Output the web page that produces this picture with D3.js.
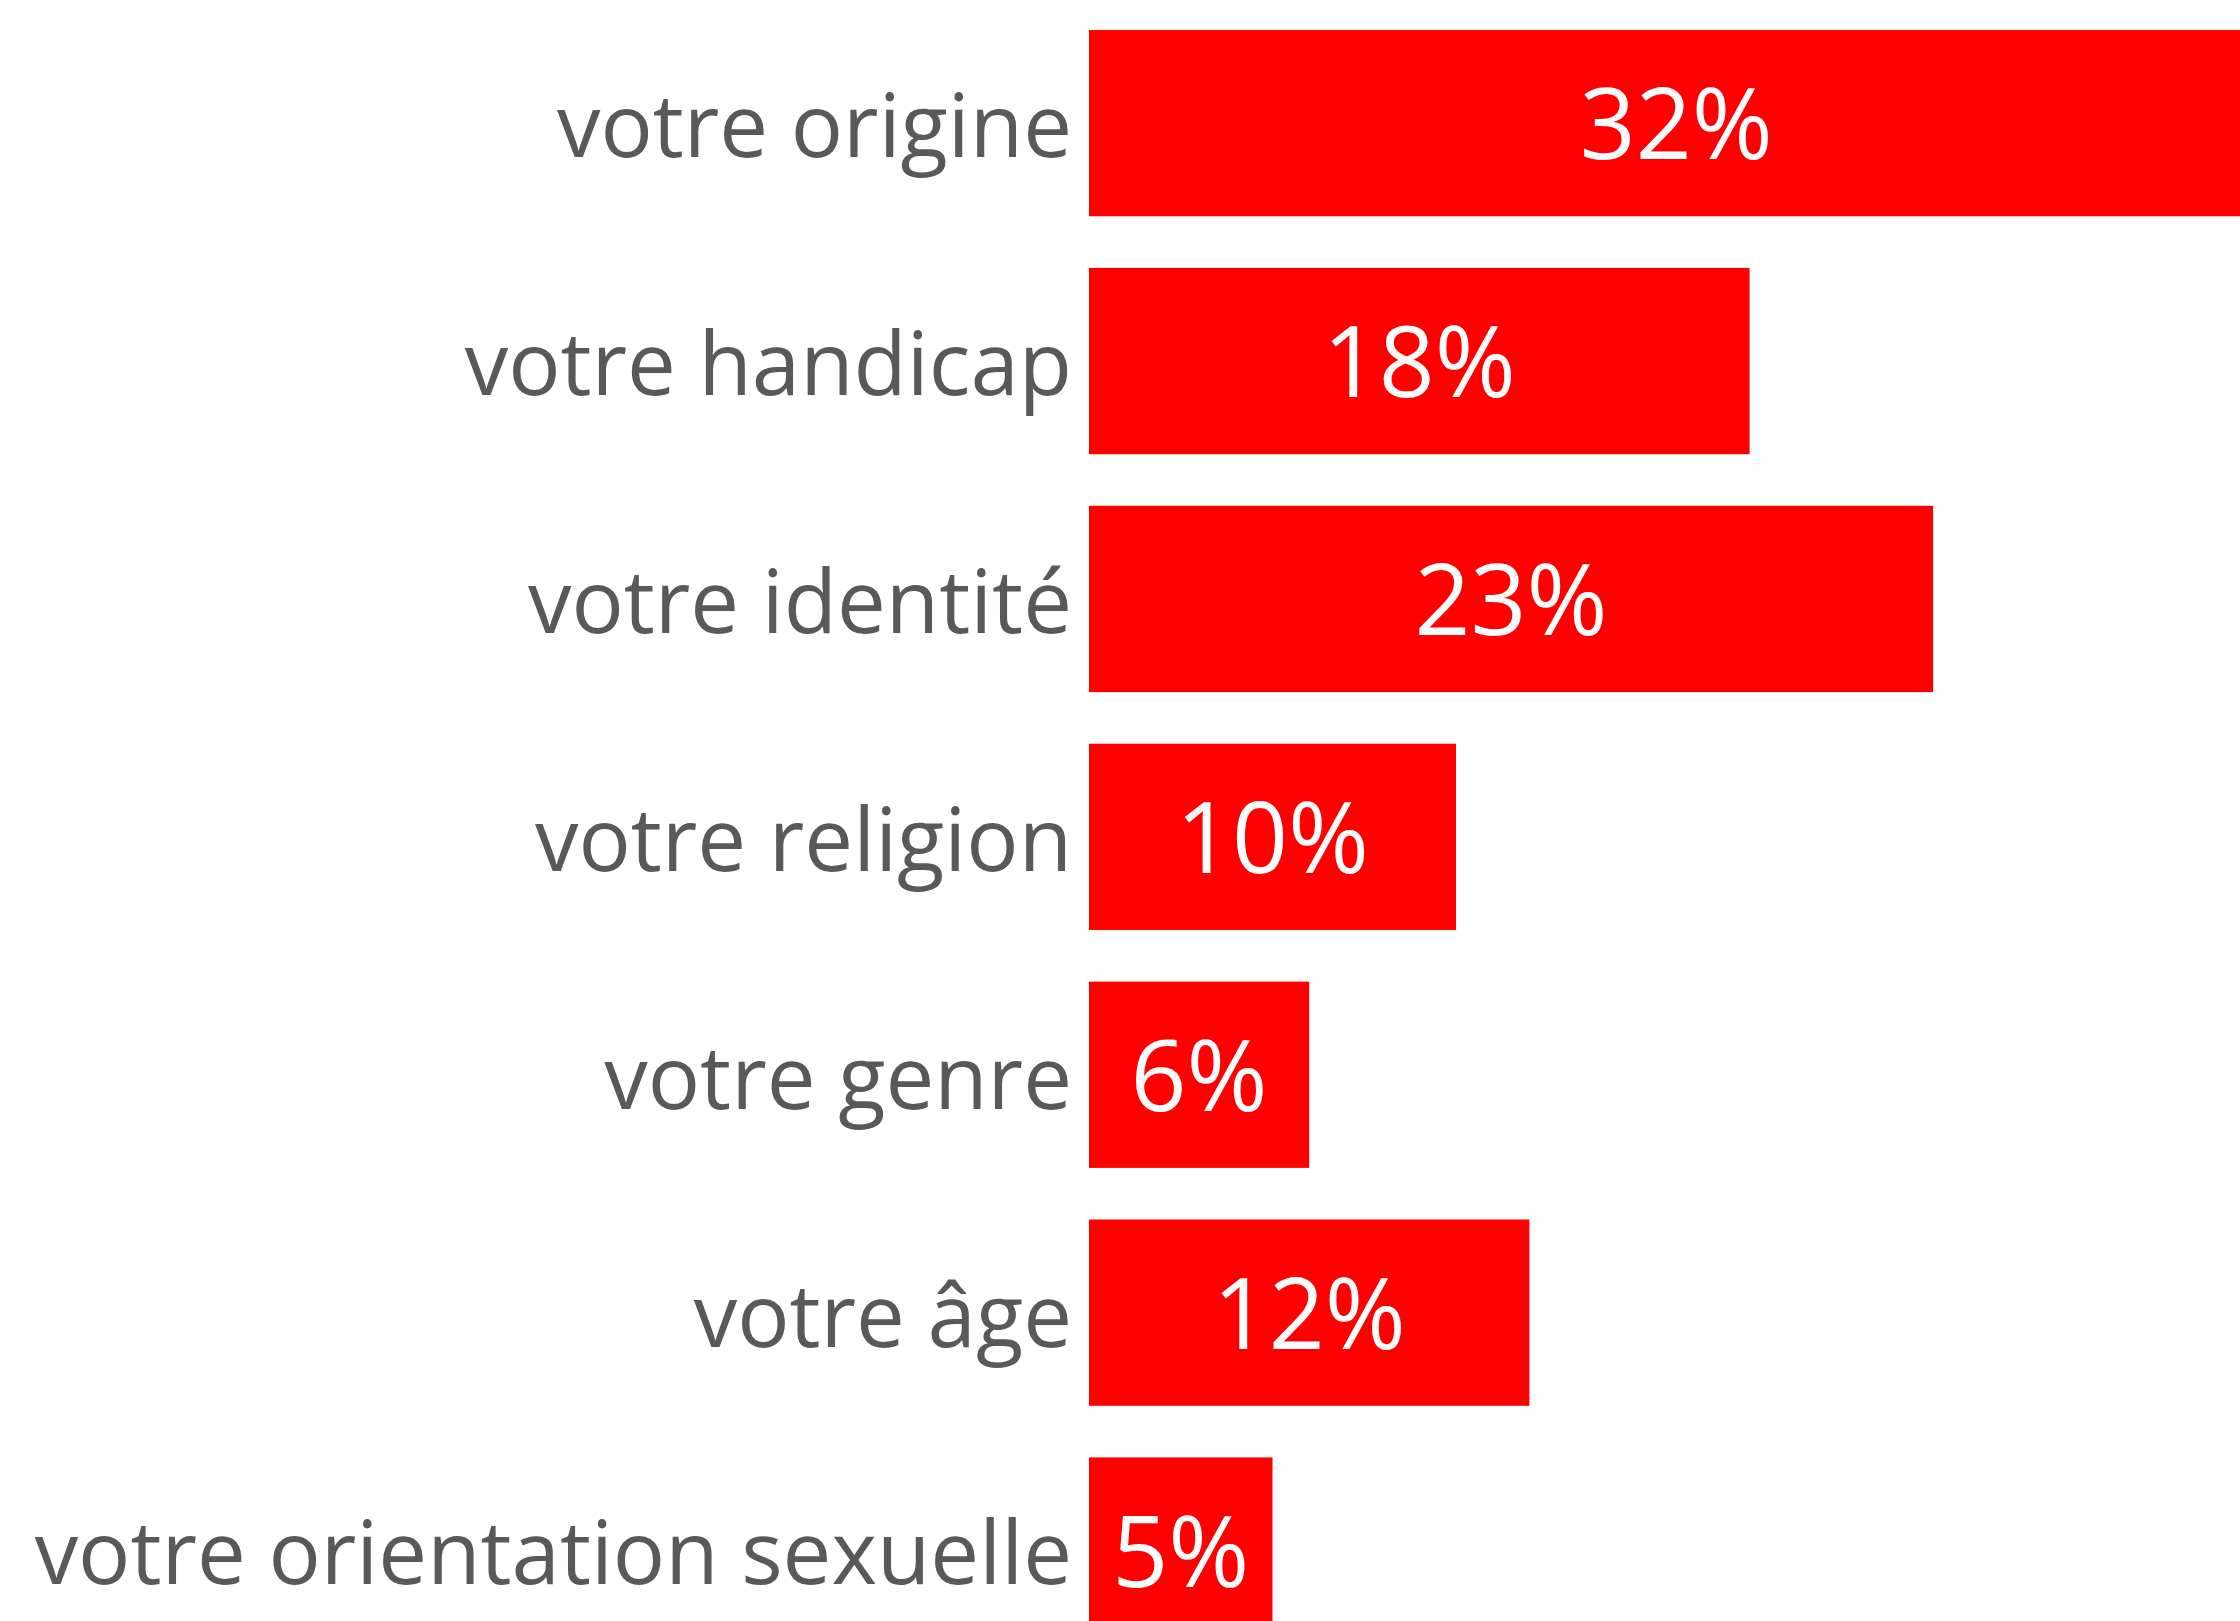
<!DOCTYPE html>
<html lang="fr">
<head>
<meta charset="utf-8">
<script src="https://cdn.jsdelivr.net/npm/d3@7"></script>
<style>
  html, body { margin: 0; padding: 0; background: #ffffff; overflow: hidden; }
  svg { display: block; }
</style>
</head>
<body>
<svg id="chart" width="2240" height="1621"></svg>
<script>
// Share of respondents by ground of discrimination
const categories = [
  "votre origine",
  "votre handicap",
  "votre identité",
  "votre religion",
  "votre genre",
  "votre âge",
  "votre orientation sexuelle"
];
const values = [32, 18, 23, 10, 6, 12, 5];
const valueLabels = ["32%", "18%", "23%", "10%", "6%", "12%", "5%"];

const width = 2240, height = 1621;
const svg = d3.select("#chart");

// Horizontal scale: percentage -> pixel length of each bar
const x = d3.scaleLinear().domain([0, 30]).range([1089, 2190]);

// One band per category, top to bottom
const y = d3.scaleBand()
  .domain(categories)
  .range([4.2, 1669.5])
  .paddingInner(0.217)
  .paddingOuter(0.1085);

// Bars
svg.append("g")
  .selectAll("rect")
  .data(categories)
  .join("rect")
    .attr("x", x(0))
    .attr("y", d => y(d))
    .attr("width", (d, i) => x(values[i]) - x(0))
    .attr("height", y.bandwidth())
    .attr("fill", "#ff0000");

// Category axis on the left, text only
const yAxis = svg.append("g")
  .attr("transform", `translate(${x(0)},0)`)
  .call(d3.axisLeft(y).tickSize(0).tickPadding(17));
yAxis.select(".domain").remove();
yAxis.selectAll("text")
  .attr("font-family", "'Open Sans', 'Noto Sans', sans-serif")
  .attr("font-size", 87)
  .attr("fill", "#595959")
  .attr("dy", "0.39em");

// Value labels centred in each bar
svg.append("g")
  .selectAll("text")
  .data(categories)
  .join("text")
    .attr("x", (d, i) => (x(0) + x(values[i])) / 2)
    .attr("y", d => y(d) + y.bandwidth() / 2)
    .attr("dy", "0.37em")
    .attr("text-anchor", "middle")
    .attr("font-family", "'Open Sans', 'Noto Sans', sans-serif")
    .attr("font-size", 98)
    .attr("fill", "#ffffff")
    .text((d, i) => valueLabels[i]);
</script>
</body>
</html>
